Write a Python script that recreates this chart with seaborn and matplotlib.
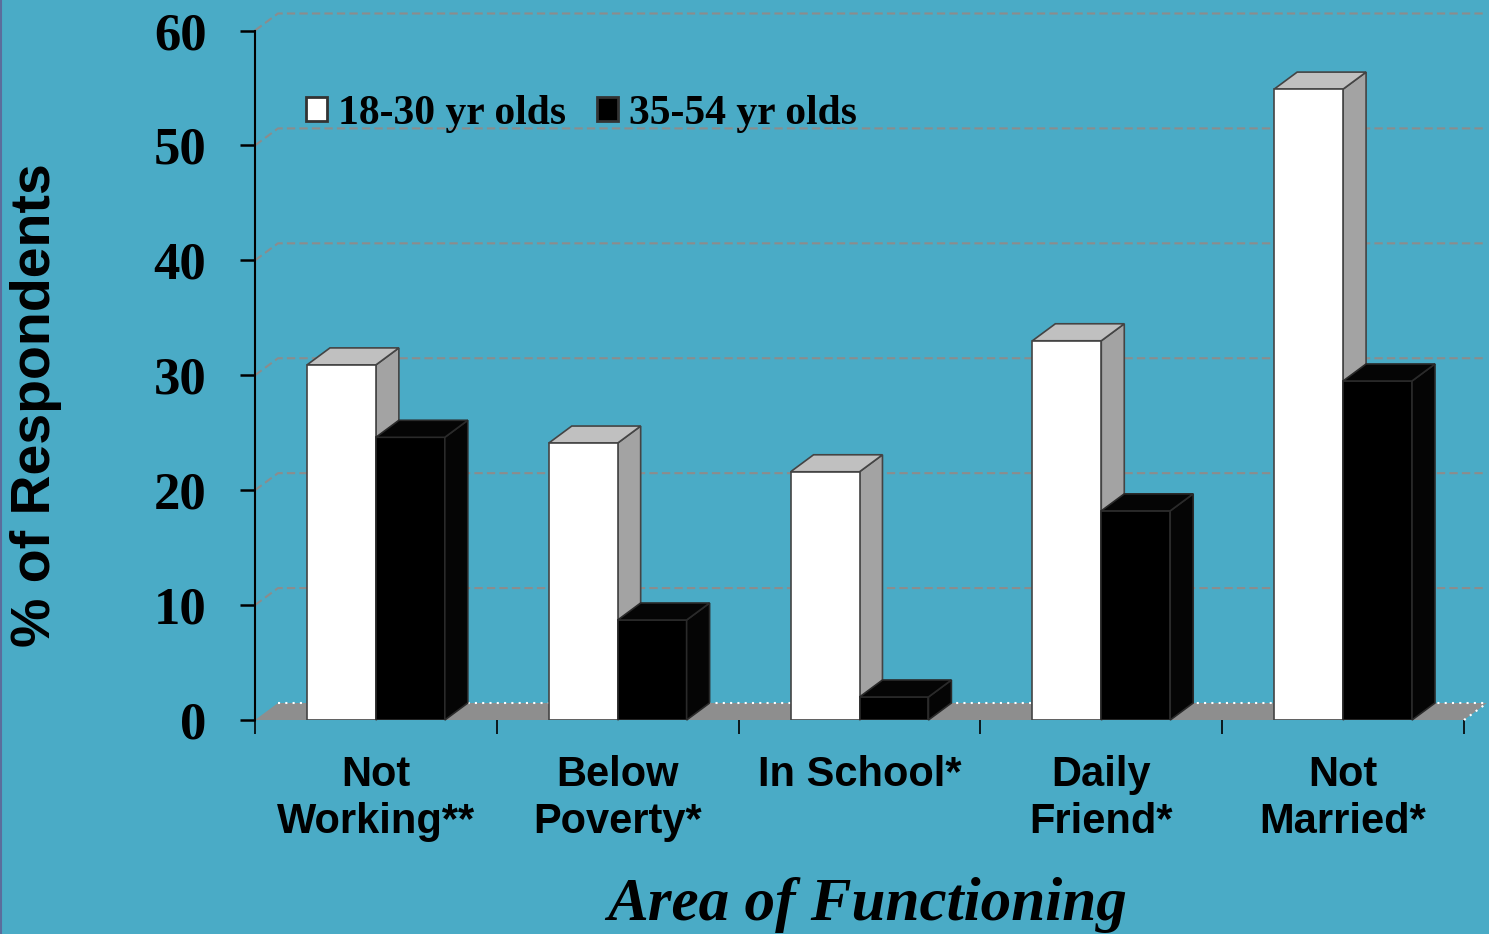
import numpy as np
import pandas as pd
import matplotlib.pyplot as plt
import seaborn as sns
from matplotlib.patches import Polygon, Patch
from matplotlib.lines import Line2D

# values
areas = ['Not\nWorking**', 'Below\nPoverty*', 'In School*', 'Daily\nFriend*', 'Not\nMarried*']
young = [30.9, 24.1, 21.6, 33.0, 54.9]
older = [24.6, 8.7, 2.0, 18.2, 29.5]
groups = ['18-30 yr olds', '35-54 yr olds']
y_ticks = [0, 10, 20, 30, 40, 50, 60]

bg = '#4aabc6'
dx, dy = 0.095, 1.48   # fake 3d depth, in data units

df = pd.DataFrame({
    'area': areas * 2,
    'pct': young + older,
    'group': [groups[0]] * len(areas) + [groups[1]] * len(areas),
})

sns.set_style('white', rc={'text.color': 'black', 'xtick.color': 'black',
                           'ytick.color': 'black', 'axes.labelcolor': 'black'})
fig = plt.figure(figsize=(14.89, 9.34), dpi=100, facecolor=bg)
ax = fig.add_axes([255 / 1489, 1 - 720 / 934, 1209 / 1489, 689.5 / 934])
ax.set_facecolor(bg)

sns.barplot(data=df, x='area', y='pct', hue='group', order=areas,
            palette=['white', 'black'], saturation=1, width=0.57,
            edgecolor='#444444', linewidth=1.2, legend=False, ax=ax, zorder=3)

ax.set_xlim(-0.5, 4.5)
ax.set_ylim(0, 60)

# floor and back-wall gridlines
floor = Polygon([(-0.5, 0), (4.5, 0), (4.5 + dx, dy), (-0.5 + dx, dy)],
                facecolor='#8e8e8e', edgecolor='none', zorder=1.5, clip_on=False)
ax.add_patch(floor)
ax.plot([-0.5 + dx, 4.5 + dx], [dy, dy], color='white', ls=(0, (1, 2.5)),
        lw=1.5, zorder=1.6, clip_on=False)
ax.plot([4.5, 4.5 + dx], [0, dy], color='white', ls=(0, (1, 2.5)),
        lw=1.5, zorder=1.6, clip_on=False)
for v in y_ticks[1:]:
    ax.plot([-0.5, -0.5 + dx, 4.5 + dx], [v, v + dy, v + dy], color='#8c8c8c',
            ls=(0, (4, 2)), lw=1.5, zorder=1, clip_on=False)

# top and side faces of each bar
for k, cont in enumerate(ax.containers):
    if k == 0:
        top_c, side_c, edge_c, z = '#c0c0c0', '#a3a3a3', '#444444', 2
    else:
        top_c, side_c, edge_c, z = '#050505', '#050505', '#2a2a2a', 4
    for bar in cont:
        bar.set_zorder(3 if k == 0 else 4)
        if k == 1:
            bar.set_edgecolor('#2a2a2a')
        x0, w, h = bar.get_x(), bar.get_width(), bar.get_height()
        top = Polygon([(x0, h), (x0 + w, h), (x0 + w + dx, h + dy), (x0 + dx, h + dy)],
                      facecolor=top_c, edgecolor=edge_c, lw=1.2, zorder=z, clip_on=False)
        side = Polygon([(x0 + w, 0), (x0 + w + dx, dy), (x0 + w + dx, h + dy), (x0 + w, h)],
                       facecolor=side_c, edgecolor=edge_c, lw=1.2, zorder=z, clip_on=False)
        ax.add_patch(side)
        ax.add_patch(top)

# axes, ticks
for s in ['top', 'right', 'bottom']:
    ax.spines[s].set_visible(False)
ax.spines['left'].set_color('black')
ax.spines['left'].set_linewidth(1.5)

ax.set_yticks(y_ticks)
ax.set_yticklabels([str(t) for t in y_ticks], family='Liberation Serif',
                   fontweight='bold', fontsize=38, color='black')
ax.tick_params(axis='y', left=True, length=11, width=1.8, color='black', pad=24)

ax.set_xticks(range(len(areas)))
ax.set_xticklabels(areas, family='Liberation Sans', fontweight='bold', fontsize=30,
                   color='black', linespacing=1.25)
ax.set_xticks(np.arange(-0.5, len(areas), 1), minor=True)
ax.tick_params(axis='x', which='major', bottom=True, length=0, pad=25)
ax.tick_params(axis='x', which='minor', bottom=True, length=10, width=1.2, color='black')
ax.set_xlabel('')
ax.set_ylabel('')

fig.text(36 / 1489, 1 - 405 / 934, '% of Respondents', rotation=90, ha='center',
         va='center', family='Liberation Sans', fontweight='bold', fontsize=40,
         color='black')
fig.text(867 / 1489, 1 - 920 / 934, 'Area of Functioning', ha='center', va='baseline',
         family='Liberation Serif', fontweight='bold', style='italic', fontsize=44,
         color='black')

handles = [Patch(facecolor='white', edgecolor='#333333', lw=2),
           Patch(facecolor='black', edgecolor='#333333', lw=2)]
leg = ax.legend(handles, groups, loc='center left', bbox_to_anchor=(306 / 1489, 1 - 114 / 934),
                bbox_transform=fig.transFigure, ncol=2, frameon=False, borderpad=0,
                borderaxespad=0, handlelength=0.5, handleheight=0.5, handletextpad=0.26,
                columnspacing=0.75,
                prop={'family': 'Liberation Serif', 'weight': 'bold', 'size': 30})
for t in leg.get_texts():
    t.set_color('black')

fig.add_artist(Line2D([0.0008, 0.0008], [0, 1], color='#5b6d9c', lw=1.5,
                      transform=fig.transFigure))

fig.savefig('out.png', dpi=100, facecolor=bg)
